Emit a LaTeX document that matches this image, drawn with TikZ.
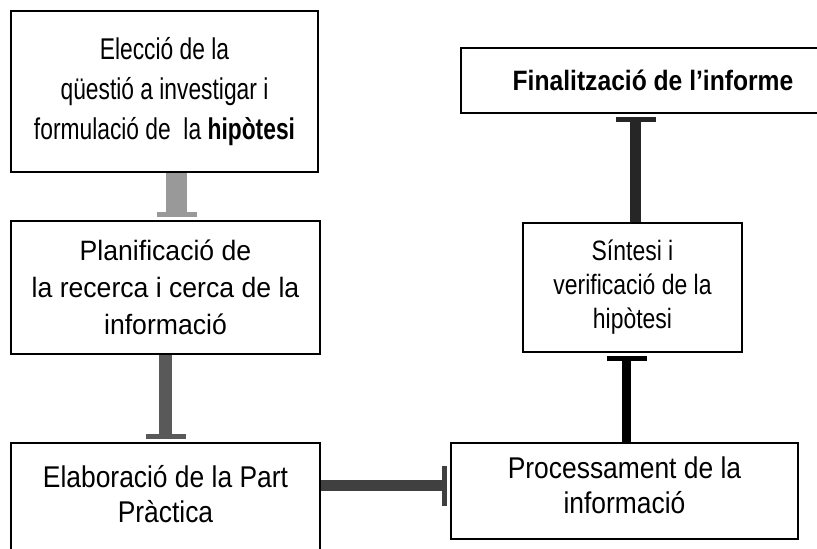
\documentclass[tikz,border=0pt]{standalone}
\usepackage{fontspec}
\setmainfont{Liberation Sans}
\newfontfamily\lletraA[FakeStretch=0.76]{Liberation Sans}
\newfontfamily\lletraB[FakeStretch=0.95]{Liberation Sans}
\newfontfamily\lletraC[FakeStretch=0.88]{Liberation Sans}
\newfontfamily\lletraD[FakeStretch=0.82]{Liberation Sans}
\usetikzlibrary{arrows.meta}

\tikzset{
  caixa/.style={draw, line width=1.5pt, align=center, inner sep=0pt},
  fletxa/.style={line width=#1, -{Bar[width=40pt 0, line width=5pt 0]}, shorten >=3pt},
}

\begin{document}
\begin{tikzpicture}[x=1pt,y=-1pt]
    \useasboundingbox (0,0) rectangle (817,549);

    \node[caixa, minimum width=307pt, minimum height=161pt,
          font=\lletraA\fontsize{30}{40}\selectfont] (b1) at (164.5,91.5)
          {Elecció de la\\qüestió a investigar i\\formulació de~ la \textbf{hipòtesi}};
    \node[caixa, minimum width=309pt, minimum height=133pt,
          font=\lletraB\fontsize{28}{37}\selectfont] (b2) at (165.5,287.5)
          {Planificació de\\la recerca i cerca de la\\informació};
    \node[caixa, minimum width=309pt, minimum height=113pt, text depth=12pt,
          font=\lletraC\fontsize{30}{35}\selectfont] (b3) at (165.5,499.5)
          {Elaboració de la Part\\Pràctica};
    \node[caixa, minimum width=347pt, minimum height=96pt, text depth=12pt,
          font=\lletraC\fontsize{30}{35}\selectfont] (b4) at (624.5,491)
          {Processament de la\\informació};
    \node[caixa, minimum width=219pt, minimum height=129pt,
          font=\lletraD\fontsize{28}{34}\selectfont] (b5) at (632.5,287.5)
          {Síntesi i\\verificació de la\\hipòtesi};
    \node[caixa, minimum width=384pt, minimum height=65pt,
          font=\lletraC\fontsize{28}{34}\selectfont\bfseries] (b6) at (653,80.5)
          {Finalització de l’informe};

    \coordinate (h) at ([yshift=5.5pt]b4.west);
    \coordinate (v) at ([xshift=2pt]b4.north);
    \coordinate (w) at ([xshift=3pt]b5.north);

    \draw[fletxa=21pt, black!40] ([xshift=12pt]b1.south) -- ([xshift=12pt]b1.south |- b2.north);
    \draw[fletxa=13pt, black!65] (b2.south) -- (b3.north);
    \draw[fletxa=11pt, black!75] (b3.east |- h) -- (h);
    \draw[fletxa=9pt, black] (v) -- (v |- b5.south);
    \draw[fletxa=11pt, black!85] (w) -- (w |- b6.south);

\end{tikzpicture}
\end{document}
